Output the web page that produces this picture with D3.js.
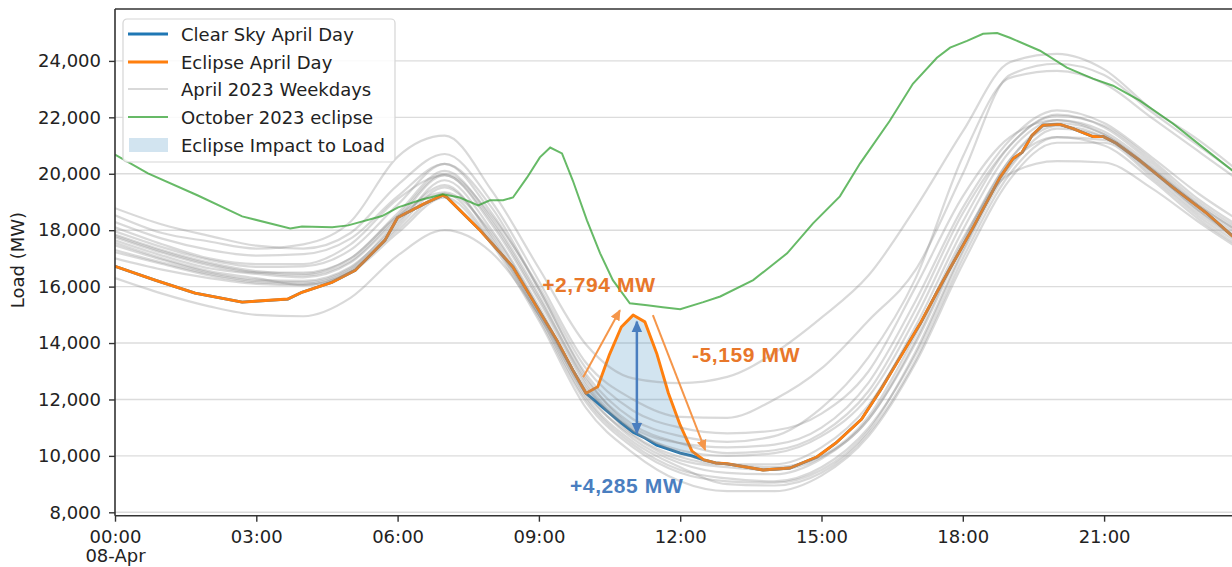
<!DOCTYPE html>
<html><head><meta charset="utf-8">
<script src="https://cdn.jsdelivr.net/npm/d3@7"></script>
<style>body{margin:0;background:#fff} svg{display:block}</style>
</head><body><svg id="c" width="1232" height="567"></svg>
<script>
// ---------- DATA ----------
const yTicks = [8000,10000,12000,14000,16000,18000,20000,22000,24000];
const xTickHours = [0,3,6,9,12,15,18,21];
const xTickLabels = ["00:00","03:00","06:00","09:00","12:00","15:00","18:00","21:00"];
const xFirstDateLabel = "08-Apr";
const legendLabels = ["Clear Sky April Day","Eclipse April Day","April 2023 Weekdays","October 2023 eclipse","Eclipse Impact to Load"];

const dayHours = [0,0.85,1.7,2.7,3.67,3.97,4.6,5.1,5.73,6,6.58,6.96,7.05,7.75,8.45,8.96,9.38,9.72,10,10.25,10.5,10.75,11,11.25,11.5,11.75,12,12.25,12.5,12.75,13,13.76,14.33,14.9,15.3,15.85,16.25,16.67,17.1,17.45,17.73,18.22,18.79,19.07,19.26,19.47,19.7,20.06,20.34,20.76,20.98,21.27,21.76,22.46,23.18,23.72,24];
const eclipseLoad = [16720,16230,15770,15450,15560,15800,16150,16580,17640,18450,18950,19240,19160,18000,16690,15270,14100,13040,12220,12450,13600,14570,14990,14750,13640,12220,11090,10170,9860,9750,9720,9500,9570,9960,10450,11300,12330,13500,14700,15800,16650,18100,19870,20540,20760,21360,21720,21750,21600,21320,21320,21070,20470,19520,18600,17800,17450];
const clearSkyLoad = [16720,16230,15770,15450,15560,15800,16150,16580,17640,18450,18950,19240,19160,18000,16690,15270,14100,13040,12220,11870,11510,11160,10840,10630,10380,10240,10100,10000,9860,9750,9720,9500,9570,9960,10450,11300,12330,13500,14700,15800,16650,18100,19870,20540,20760,21360,21720,21750,21600,21320,21320,21070,20470,19520,18600,17800,17450];
const impactWindow = [10, 12.75]; // hours where eclipse impact is shaded

const octHours = [0,0.7,1.76,2.7,3.72,3.97,4.61,4.95,5.67,6.01,6.52,6.96,7.32,7.71,7.96,8.24,8.45,8.75,9.02,9.24,9.49,9.72,10.02,10.3,10.57,10.93,11.3,11.63,12,12.49,12.85,13.55,14.27,14.82,15.39,15.82,16.45,16.94,17.45,17.73,18.09,18.43,18.73,19,19.64,20.21,20.76,21.19,21.76,22.46,23.18,23.72,24];
const octLoad = [20680,20010,19230,18490,18060,18130,18100,18170,18500,18810,19090,19270,19160,18880,19060,19060,19160,19870,20580,20930,20720,19760,18350,17180,16230,15410,15340,15270,15200,15450,15650,16230,17180,18240,19200,20370,21880,23190,24110,24470,24710,24960,24990,24820,24360,23760,23370,23120,22590,21780,20830,20120,19800];

const weekdayHours = [0,1,2,3,4,5,6,7,8,9,10,11,12,13,14,15,16,17,18,19,20,21,22,23,24];
const aprilWeekdayLoads = [
 [18530,17900,17600,17350,17500,18300,20600,21350,19400,16650,13950,12750,12580,12800,13650,14900,16400,18800,21500,23950,24250,23700,22300,21200,19900],
 [18780,18200,17800,17450,17350,17900,19600,20700,19000,16200,13300,12000,11380,11350,12000,13100,14800,16600,20000,23500,23900,23500,22200,21000,19800],
 [18290,17700,17300,17100,17150,17700,19200,20350,18800,15900,12900,11300,10700,10500,10700,11700,13500,16300,20600,23400,23650,23200,22000,20800,19600],
 [17960,17400,16950,16700,16720,17300,18900,20350,18600,15900,12800,11000,10450,10300,10400,11000,12600,15500,18800,21200,22250,21800,20600,19300,18200],
 [17750,17200,16750,16500,16500,17000,18600,20100,18400,15700,12600,10900,10200,10000,10100,10700,12100,14900,18300,21000,22050,21700,20500,19100,18000],
 [17640,17100,16650,16450,16330,16850,18400,19950,18200,15500,12500,10750,9960,9700,9700,10300,11800,14600,18000,20800,21900,21500,20300,18900,17800],
 [17460,16950,16500,16250,16200,16700,18200,19770,18000,15300,12300,10600,9740,9400,9350,9900,11300,14000,17500,20500,21800,21400,20200,18800,17700],
 [17220,16800,16400,16150,16100,16600,18100,19520,17800,15000,12000,10400,9500,9200,9100,9600,11000,13600,17200,20200,21600,21300,20100,18700,17600],
 [17850,17300,16850,16550,16450,17000,18500,19340,17900,15200,12100,10500,9600,9000,8950,9400,10800,13400,17000,20000,21300,21200,20000,18600,17500],
 [17550,17000,16550,16300,16050,16500,17900,19160,17500,14800,11700,10100,9100,8750,8750,9300,10700,13300,16800,19800,21100,21100,19900,18500,17400],
 [18100,17500,17000,16800,16800,17500,19100,19950,18300,15600,12700,11100,10450,10100,10200,10800,12300,15200,18600,21000,22100,21650,20400,19000,17900],
 [17300,16850,16450,16200,16150,16650,18300,19600,17700,14900,11900,10300,9400,9100,9050,9500,10900,13700,17300,20300,21300,21000,19800,18400,17300],
 [17000,16600,16300,16100,16050,16550,18000,19300,17600,15000,12200,10700,9850,9600,9500,9950,11300,14100,17600,20500,21700,21300,20100,18700,17500],
 [17800,17250,16800,16500,16400,16900,18500,20000,18500,16000,13100,11600,11000,10800,10900,11500,13000,16000,19200,21300,21900,21400,20200,18900,17800],
 [16300,15750,15300,15000,14950,15600,17100,18000,17200,15000,12400,10900,10100,9700,9600,10000,11400,14300,17700,20000,20450,20400,19500,18300,17200]
];

// ---------- LAYOUT ----------
const W = 1232, H = 567;
const L = 115, T = 9, B = 515.7;
const pxPerHour = 47.1;
const x = d3.scaleLinear().domain([0,24]).range([L, L + pxPerHour*24]);
const y = d3.scaleLinear().domain([7880,25840]).range([B, T]);
const FONT = "'DejaVu Sans', sans-serif";
const fs = 18;

const svg = d3.select("#c");
const defs = svg.append("defs");
defs.append("clipPath").attr("id","plot").append("rect")
  .attr("x",L).attr("y",T).attr("width",W-L).attr("height",B-T);

function marker(id,color,size){
  defs.append("marker").attr("id",id).attr("viewBox","0 0 10 10")
    .attr("refX",9).attr("refY",5).attr("markerWidth",size).attr("markerHeight",size)
    .attr("markerUnits","userSpaceOnUse").attr("orient","auto-start-reverse")
    .append("path").attr("d","M0,0.5 L10,5 L0,9.5 Z").attr("fill",color);
}
marker("arrO","#f5964a",11);
marker("arrB","#4a7ebf",12);

// grid
svg.append("g").selectAll("line").data(yTicks).join("line")
  .attr("x1",L).attr("x2",W).attr("y1",d=>y(d)).attr("y2",d=>y(d))
  .attr("stroke","#dcdcdc").attr("stroke-width",1.4);

const plot = svg.append("g").attr("clip-path","url(#plot)");

// fill (eclipse impact)
const impactIdx = dayHours.map((h,i)=>i).filter(i=>dayHours[i]>=impactWindow[0] && dayHours[i]<=impactWindow[1]);
plot.append("path").datum(impactIdx)
  .attr("d", d3.area().x(i=>x(dayHours[i])).y0(i=>y(clearSkyLoad[i])).y1(i=>y(eclipseLoad[i])))
  .attr("fill","#1f77b4").attr("fill-opacity",0.2);

const lineDay = (arr)=>d3.line().x((d,i)=>x(dayHours[i])).y(d=>y(d))(arr);

plot.append("path").attr("d",lineDay(clearSkyLoad)).attr("fill","none")
  .attr("stroke","#1f77b4").attr("stroke-width",2.8);
plot.append("path").attr("d",lineDay(eclipseLoad)).attr("fill","none")
  .attr("stroke","#ff7f0e").attr("stroke-width",2.9).attr("stroke-linejoin","round");

// gray weekdays
const grayLine = d3.line().curve(d3.curveMonotoneX).x((d,i)=>x(weekdayHours[i])).y(d=>y(d));
plot.append("g").selectAll("path").data(aprilWeekdayLoads).join("path")
  .attr("d",d=>grayLine(d)).attr("fill","none")
  .attr("stroke","#8a8a8a").attr("stroke-opacity",0.32).attr("stroke-width",2.2);

// green October
plot.append("path")
  .attr("d", d3.line().x((d,i)=>x(octHours[i])).y(d=>y(d))(octLoad))
  .attr("fill","none").attr("stroke","#2ca02c").attr("stroke-opacity",0.72).attr("stroke-width",2);

// annotations (data coordinates)
const ann = svg.append("g");
ann.append("line").attr("x1",x(9.94)).attr("y1",y(12790)).attr("x2",x(10.72)).attr("y2",y(15160))
  .attr("stroke","#f5964a").attr("stroke-width",2).attr("marker-end","url(#arrO)");
ann.append("line").attr("x1",x(11.42)).attr("y1",y(14990)).attr("x2",x(12.53)).attr("y2",y(10210))
  .attr("stroke","#f5964a").attr("stroke-width",2).attr("marker-end","url(#arrO)");
ann.append("line").attr("x1",x(11.08)).attr("y1",y(14760)).attr("x2",x(11.08)).attr("y2",y(10800))
  .attr("stroke","#4a7ebf").attr("stroke-width",2.5)
  .attr("marker-start","url(#arrB)").attr("marker-end","url(#arrB)");
const annText = [
  {t:"+2,794 MW", h:9.07, v:15800, c:"#e8772a"},
  {t:"-5,159 MW", h:12.25, v:13330, c:"#e8772a"},
  {t:"+4,285 MW", h:9.66, v:8680, c:"#4a7ebf"}
];
ann.selectAll("text").data(annText).join("text")
  .attr("x",d=>x(d.h)).attr("y",d=>y(d.v)).text(d=>d.t)
  .attr("fill",d=>d.c)
  .style("font-family","'Liberation Sans', Arial, sans-serif")
  .style("font-weight","bold").style("font-size","21px").style("letter-spacing","0.6px");

// axes
const ya = svg.append("g").attr("transform",`translate(${L},0)`)
  .call(d3.axisLeft(y).tickValues(yTicks).tickFormat(d3.format(",")).tickSize(6).tickPadding(8));
ya.select(".domain").remove();
ya.selectAll("line").attr("stroke","#333").attr("stroke-width",1.4);
ya.selectAll("text").attr("fill","#222").style("font-size",fs+"px").style("font-family",FONT);

const xa = svg.append("g").attr("transform",`translate(0,${B})`)
  .call(d3.axisBottom(x).tickValues(xTickHours).tickFormat((d,i)=>xTickLabels[i]).tickSize(6).tickPadding(9));
xa.select(".domain").remove();
xa.selectAll("line").attr("stroke","#333").attr("stroke-width",1.4);
xa.selectAll("text").attr("fill","#222").style("font-size",fs+"px").style("font-family",FONT);
xa.selectAll(".tick").filter((d,i)=>i===0).select("text")
  .append("tspan").attr("x",0).attr("dy","1.05em").text(xFirstDateLabel);

// spines
svg.append("line").attr("x1",L).attr("x2",L).attr("y1",T).attr("y2",B).attr("stroke","#333").attr("stroke-width",1.6);
svg.append("line").attr("x1",L).attr("x2",W).attr("y1",B).attr("y2",B).attr("stroke","#333").attr("stroke-width",1.6);
svg.append("line").attr("x1",L).attr("x2",W).attr("y1",T).attr("y2",T).attr("stroke","#333").attr("stroke-width",1.6);

// y label
svg.append("text").attr("transform","translate(19,260) rotate(-90)")
  .attr("text-anchor","middle").attr("dominant-baseline","middle")
  .attr("fill","#222").style("font-size","18px").style("font-family",FONT).text("Load (MW)");

// legend
const lg = svg.append("g").attr("transform","translate(123,19)");
lg.append("rect").attr("width",272).attr("height",143).attr("rx",4)
  .attr("fill","#fff").attr("fill-opacity",0.85).attr("stroke","#d5d5d5").attr("stroke-width",1.2);
const rows = [15,43,70,98,126];
const styles = [
  {type:"line", c:"#1f77b4", w:3, o:1},
  {type:"line", c:"#ff7f0e", w:3, o:1},
  {type:"line", c:"#8a8a8a", w:2.2, o:0.32},
  {type:"line", c:"#2ca02c", w:2, o:0.72},
  {type:"patch", c:"#1f77b4", o:0.2}
];
legendLabels.forEach((lab,i)=>{
  const s = styles[i], yy = rows[i];
  if(s.type==="line"){
    lg.append("line").attr("x1",5).attr("x2",45).attr("y1",yy).attr("y2",yy)
      .attr("stroke",s.c).attr("stroke-width",s.w).attr("stroke-opacity",s.o);
  } else {
    lg.append("rect").attr("x",6).attr("y",yy-7).attr("width",39).attr("height",14)
      .attr("fill",s.c).attr("fill-opacity",s.o);
  }
  lg.append("text").attr("x",58).attr("y",yy).attr("dominant-baseline","central")
    .attr("fill","#222").style("font-size",fs+"px").style("font-family",FONT).text(lab);
});
</script></body></html>
